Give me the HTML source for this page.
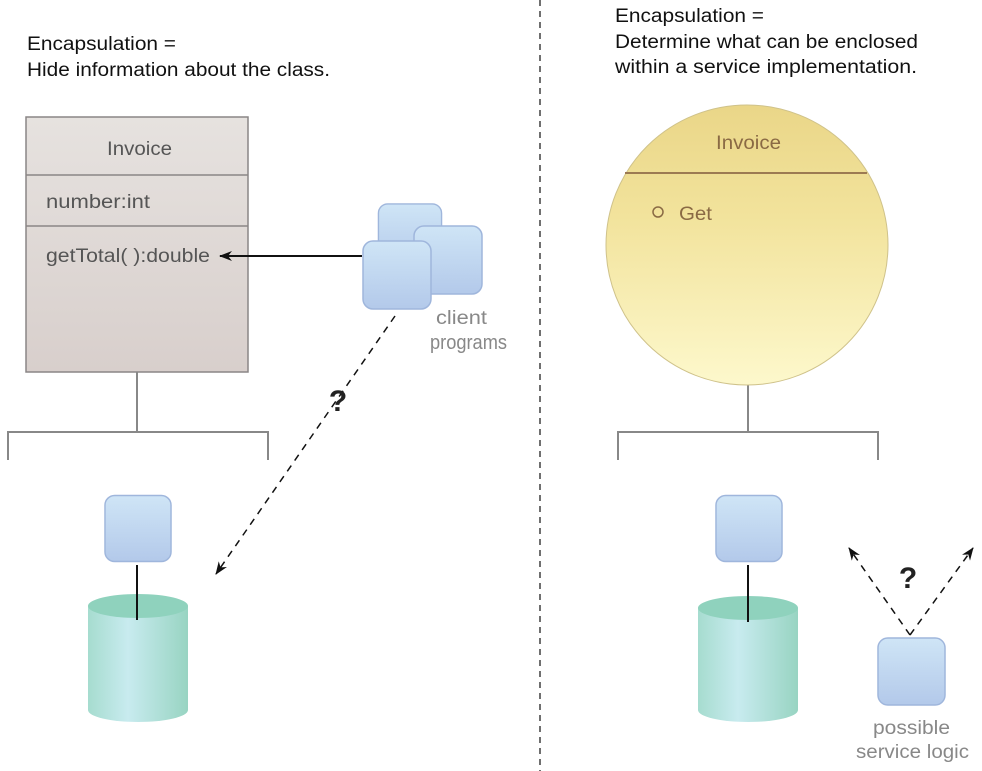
<!DOCTYPE html>
<html><head><meta charset="utf-8"><style>html,body{margin:0;padding:0;background:#fff}svg{display:block}</style></head>
<body>
<svg width="982" height="771" viewBox="0 0 982 771" xmlns="http://www.w3.org/2000/svg" font-family="Liberation Sans, sans-serif">
<defs>
<linearGradient id="gbox" x1="0" y1="0" x2="0" y2="1"><stop offset="0" stop-color="#e6e2df"/><stop offset="1" stop-color="#d8cfcc"/></linearGradient>
<linearGradient id="gsq" x1="0" y1="0" x2="0" y2="1"><stop offset="0" stop-color="#cfe5f6"/><stop offset="1" stop-color="#b3c9ea"/></linearGradient>
<linearGradient id="gcyl" x1="0" y1="0" x2="1" y2="0"><stop offset="0" stop-color="#a6dccf"/><stop offset="0.4" stop-color="#c8ebef"/><stop offset="1" stop-color="#98d4c2"/></linearGradient>
<linearGradient id="gcirc" x1="0" y1="0" x2="0" y2="1"><stop offset="0" stop-color="#ead688"/><stop offset="0.4" stop-color="#f2e39c"/><stop offset="1" stop-color="#fdf8cc"/></linearGradient>
<marker id="ah" markerWidth="13" markerHeight="10" refX="12" refY="5" orient="auto" markerUnits="userSpaceOnUse"><path d="M0,0 L13,5 L0,10 L4,5 Z" fill="#111"/></marker>
<symbol id="sq" viewBox="0 0 70 70"><rect x="1" y="1" width="68" height="68" rx="10" fill="url(#gsq)" stroke="#9fb6dc" stroke-width="1.5"/></symbol>
</defs>

<line x1="540" y1="0" x2="540" y2="771" stroke="#222" stroke-width="1.3" stroke-dasharray="6,5"/>

<g font-size="19" fill="#111">
<text x="27" y="50" textLength="149" lengthAdjust="spacingAndGlyphs">Encapsulation =</text>
<text x="27" y="76" textLength="303" lengthAdjust="spacingAndGlyphs">Hide information about the class.</text>
<text x="615" y="22" textLength="149" lengthAdjust="spacingAndGlyphs">Encapsulation =</text>
<text x="615" y="48" textLength="303" lengthAdjust="spacingAndGlyphs">Determine what can be enclosed</text>
<text x="615" y="73" textLength="302" lengthAdjust="spacingAndGlyphs">within a service implementation.</text>
</g>

<rect x="26" y="117" width="222" height="255" fill="url(#gbox)" stroke="#8a8686" stroke-width="1.5"/>
<line x1="26" y1="175" x2="248" y2="175" stroke="#8a8686" stroke-width="1.5"/>
<line x1="26" y1="226" x2="248" y2="226" stroke="#8a8686" stroke-width="1.5"/>
<g font-size="19" fill="#555">
<text x="107" y="155" textLength="65" lengthAdjust="spacingAndGlyphs">Invoice</text>
<text x="46" y="208" textLength="104" lengthAdjust="spacingAndGlyphs">number:int</text>
<text x="46" y="262" textLength="164" lengthAdjust="spacingAndGlyphs">getTotal( ):double</text>
</g>

<g stroke="#888" stroke-width="2" fill="none">
<path d="M137,372 V432 M8,460 V432 H268 V460"/>
<path d="M748,385 V432 M618,460 V432 H878 V460"/>
</g>

<use href="#sq" x="375" y="203" width="70" height="65"/>
<use href="#sq" x="413" y="225" width="70" height="70"/>
<use href="#sq" x="362" y="240" width="70" height="70"/>
<line x1="362" y1="256" x2="220" y2="256" stroke="#111" stroke-width="2" marker-end="url(#ah)"/>
<g font-size="19" fill="#888">
<text x="436" y="324" textLength="51" lengthAdjust="spacingAndGlyphs">client</text>
<text x="430" y="349" textLength="77" lengthAdjust="spacingAndGlyphs" font-size="20">programs</text>
</g>
<line x1="395" y1="316" x2="216" y2="574" stroke="#111" stroke-width="1.5" stroke-dasharray="7,6" marker-end="url(#ah)"/>
<text x="338" y="411" font-size="30" font-weight="bold" fill="#222" text-anchor="middle">?</text>

<use href="#sq" x="104" y="492" width="68" height="73"/>
<path d="M88,606 V710 A50,12 0 0 0 188,710 V606 Z" fill="url(#gcyl)"/>
<ellipse cx="138" cy="606" rx="50" ry="12" fill="#8fd2bd"/>
<line x1="137" y1="565" x2="137" y2="620" stroke="#111" stroke-width="2"/>

<ellipse cx="747" cy="245" rx="141" ry="140" fill="url(#gcirc)" stroke="#cfc28a" stroke-width="1"/>
<line x1="625" y1="173" x2="867" y2="173" stroke="#9c7a52" stroke-width="2"/>
<text x="716" y="149" font-size="19" fill="#8a6a44" textLength="65" lengthAdjust="spacingAndGlyphs">Invoice</text>
<circle cx="658" cy="212" r="5" fill="none" stroke="#8a6a44" stroke-width="1.5"/>
<text x="679" y="220" font-size="19" fill="#8a6a44" textLength="33" lengthAdjust="spacingAndGlyphs">Get</text>

<use href="#sq" x="715" y="492" width="68" height="73"/>
<path d="M698,608 V710 A50,12 0 0 0 798,710 V608 Z" fill="url(#gcyl)"/>
<ellipse cx="748" cy="608" rx="50" ry="12" fill="#8fd2bd"/>
<line x1="748" y1="565" x2="748" y2="622" stroke="#111" stroke-width="2"/>

<use href="#sq" x="877" y="637" width="69" height="69"/>
<line x1="910" y1="635" x2="849" y2="548" stroke="#111" stroke-width="1.5" stroke-dasharray="7,6" marker-end="url(#ah)"/>
<line x1="910" y1="635" x2="973" y2="548" stroke="#111" stroke-width="1.5" stroke-dasharray="7,6" marker-end="url(#ah)"/>
<text x="908" y="588" font-size="30" font-weight="bold" fill="#222" text-anchor="middle">?</text>
<g font-size="19" fill="#888">
<text x="873" y="734" textLength="77" lengthAdjust="spacingAndGlyphs">possible</text>
<text x="856" y="758" textLength="113" lengthAdjust="spacingAndGlyphs">service logic</text>
</g>
</svg>
</body></html>
